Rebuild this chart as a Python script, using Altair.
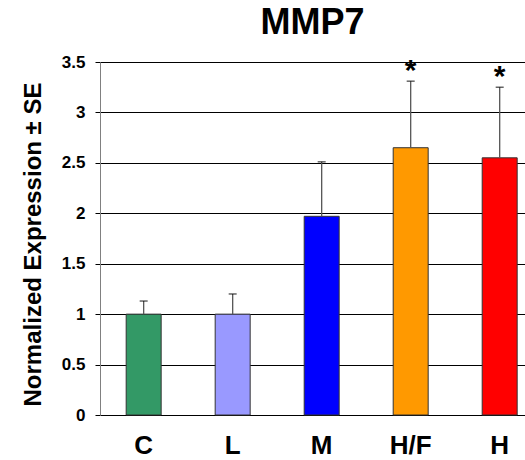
import altair as alt
import pandas as pd

groups = ["C", "L", "M", "H/F", "H"]
means = [1.0, 1.0, 1.97, 2.65, 2.55]
upper = [1.13, 1.20, 2.51, 3.31, 3.25]
bar_colors = ["#339966", "#9999FF", "#0000FF", "#FF9900", "#FF0000"]
stars = ["", "", "", "*", "*"]
y_ticks = [0, 0.5, 1, 1.5, 2, 2.5, 3, 3.5]

df = pd.DataFrame({"group": groups, "mean": means, "upper": upper, "star": stars})

FONT = "Liberation Sans"

x_enc = alt.X(
    "group:N",
    sort=groups,
    scale=alt.Scale(paddingInner=0.607, paddingOuter=0.191, align=0.77),
    axis=alt.Axis(
        title=None, labelAngle=0, domain=False, ticks=False, grid=False,
        labelFont=FONT, labelFontSize=26, labelFontWeight="bold",
        labelColor="black", labelPadding=17,
    ),
)

y_scale = alt.Scale(domain=[0, 3.5], nice=False)

bars = alt.Chart(df).mark_bar(stroke="#333333", strokeWidth=1).encode(
    x=x_enc,
    y=alt.Y(
        "mean:Q",
        scale=y_scale,
        axis=alt.Axis(
            title="Normalized Expression ± SE",
            values=y_ticks, format="~g",
            grid=True, gridColor="black", gridWidth=1,
            domainColor="#808080", domainWidth=1,
            tickColor="black", tickSize=5, tickWidth=1,
            labelFont=FONT, labelFontSize=17, labelFontWeight="bold",
            labelColor="black", labelPadding=10,
            titleFont=FONT, titleFontSize=24, titleFontWeight="bold",
            titleColor="black", titleX=-67, titleY=182, titleBaseline="middle",
            titleAngle=270,
        ),
    ),
    color=alt.Color("group:N", sort=groups,
                    scale=alt.Scale(domain=groups, range=bar_colors), legend=None),
)

stems = alt.Chart(df).mark_rule(color="#555555", strokeWidth=1.3).encode(
    x=alt.X("group:N", sort=groups),
    y=alt.Y("mean:Q", scale=y_scale),
    y2="upper:Q",
)

caps = alt.Chart(df).mark_tick(color="black", orient="horizontal", size=8, thickness=1.3).encode(
    x=alt.X("group:N", sort=groups),
    y=alt.Y("upper:Q", scale=y_scale),
)

star_text = alt.Chart(df).mark_text(
    font=FONT, fontSize=30, fontWeight="bold", color="black", baseline="alphabetic", dy=-1
).encode(
    x=alt.X("group:N", sort=groups),
    y=alt.Y("upper:Q", scale=y_scale),
    text="star:N",
)

chart = alt.layer(bars, stems, caps, star_text).properties(
    width=425,
    height=353,
    title=alt.TitleParams("MMP7", font=FONT, fontSize=36, fontWeight="bold",
                          color="black", anchor="middle", offset=11),
    padding={"left": 100, "top": 62, "right": 0, "bottom": 45},
    autosize=alt.AutoSizeParams(type="none"),
).configure_view(stroke=None).configure(background="white")

chart.save("out.html", embed_options={"renderer": "svg", "actions": False})
